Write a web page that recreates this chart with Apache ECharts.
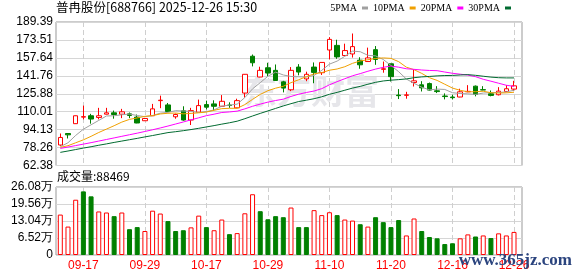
<!DOCTYPE html>
<html><head><meta charset="utf-8">
<script src="https://cdn.jsdelivr.net/npm/echarts@6/dist/echarts.min.js"></script>
<style>html,body{margin:0;padding:0;background:#fff}#c{width:578px;height:276px}</style>
</head><body><div id="c"></div>
<script>
// ---- data ----
const dates = ['09-12','09-15','09-16','09-17','09-18','09-19','09-22','09-23','09-24','09-25','09-26','09-29','09-30','10-09','10-10','10-13','10-14','10-15','10-16','10-17','10-20','10-21','10-22','10-23','10-24','10-27','10-28','10-29','10-30','10-31','11-03','11-04','11-05','11-06','11-07','11-10','11-11','11-12','11-13','11-14','11-17','11-18','11-19','11-20','11-21','11-24','11-25','11-26','11-27','11-28','12-15','12-16','12-17','12-18','12-19','12-22','12-23','12-24','12-25','12-26'];
const labelIdx = [3, 11, 19, 27, 35, 43, 51, 59];
const open  = [80.5,90.7,99.4,105.2,106.4,104.9,107.8,109.0,107.8,108.1,105.2,102.0,106.4,119.8,116.0,105.5,110.8,102.6,109.6,116.3,116.9,114.8,115.9,113.4,126.5,159.1,140.7,148.9,146.6,136.4,129.4,149.5,139.0,149.5,144.5,164.6,168.7,159.7,161.1,155.6,154.4,164.9,147.5,152.4,124.7,124.5,135.8,133.8,134.9,128.5,123.9,123.0,123.0,127.6,132.6,129.5,125.9,125.0,127.9,130.0];
const close = [87.2,89.5,106.4,105.6,103.5,106.4,109.0,107.5,109.9,106.7,100.0,104.0,112.5,120.2,110.2,107.5,102.6,111.0,115.4,114.0,114.8,119.2,115.5,119.8,143.1,153.3,146.6,144.2,137.6,130.9,146.6,145.1,143.1,144.8,153.6,174.0,158.5,164.1,167.6,151.5,157.6,156.2,148.0,141.0,124.2,124.9,137.3,131.1,129.1,127.8,123.4,122.4,127.6,128.0,125.3,129.2,124.4,128.2,130.3,132.9];
const low   = [79.8,86.3,99.2,103.2,99.4,103.2,107.6,103.8,104.3,104.3,99.8,101.8,106.2,113.1,109.6,103.8,102.0,98.2,109.6,111.9,111.3,114.6,113.4,113.2,122.4,150.1,140.5,141.6,137.4,127.1,128.2,142.2,137.0,135.2,142.5,156.2,156.8,159.5,157.9,148.0,154.0,151.5,144.5,136.7,121.2,121.5,132.3,127.9,128.5,126.5,120.9,120.8,122.8,127.3,123.6,129.0,123.6,124.4,127.3,128.2];
const high  = [90.7,90.9,106.6,115.4,108.1,113.4,113.4,111.0,112.5,109.3,107.5,104.5,116.9,124.2,117.7,108.4,114.8,113.4,120.7,119.8,120.1,124.7,118.3,121.5,143.3,160.6,149.8,153.3,151.8,137.3,149.5,152.1,145.4,153.6,153.6,176.0,173.7,170.2,179.2,158.2,166.7,168.1,154.4,152.4,130.0,127.6,146.9,137.0,135.8,132.6,126.2,125.0,130.3,133.5,133.2,132.6,128.8,131.7,133.5,137.3];
const ma5  = [79.0,82.5,89.0,94.5,98.4,102.3,106.2,106.4,107.3,107.9,106.6,105.6,106.6,108.7,109.4,110.9,110.6,110.3,109.3,110.1,111.6,114.9,115.8,116.7,122.5,130.2,135.7,141.4,145.0,142.5,141.2,140.9,140.7,142.1,146.6,152.1,154.8,159.0,163.6,163.1,159.9,159.4,156.2,150.9,145.4,138.9,135.1,131.7,129.3,130.0,129.7,126.8,126.1,125.8,125.3,126.5,126.9,127.0,127.5,129.0];
const ma10 = [78.4,79.9,82.5,85.1,88.2,91.6,94.6,97.6,100.8,103.2,104.5,105.9,106.5,108.0,108.6,108.8,108.1,108.5,109.0,109.7,111.2,112.7,113.0,113.0,116.3,120.9,125.3,128.6,130.8,132.5,135.7,138.3,141.0,143.5,144.6,146.7,147.8,149.8,152.8,154.9,156.0,157.1,157.6,157.2,154.3,149.4,147.2,143.9,140.1,137.7,134.3,130.9,128.9,127.6,127.7,128.1,126.8,126.5,126.7,127.2];
const ma20 = [77.5,78.7,80.0,81.3,82.6,84.0,85.4,86.8,88.2,89.6,91.0,92.5,94.0,95.6,97.3,99.1,100.9,102.8,104.6,106.5,107.8,109.3,109.8,110.5,112.5,114.8,116.7,118.5,119.9,121.1,123.5,125.5,127.0,128.3,130.4,133.8,136.6,139.2,141.8,143.7,145.8,147.7,149.3,150.4,149.4,148.0,147.5,146.9,146.5,146.3,145.1,144.0,143.2,142.4,141.0,138.7,137.0,135.2,133.4,132.4];
const ma30 = [74.0,75.2,76.5,77.8,79.0,80.3,81.5,82.8,84.0,85.2,86.4,87.7,88.9,90.2,91.5,92.3,93.2,94.2,95.3,96.5,97.7,99.0,100.2,101.6,103.8,106.2,108.5,110.7,112.9,115.1,117.1,119.0,120.2,121.5,123.2,125.4,127.1,129.0,130.9,132.4,134.3,136.0,137.2,137.9,138.4,139.0,140.1,140.8,141.2,141.7,142.0,142.1,142.5,142.8,142.2,141.4,140.6,140.1,139.9,139.9];
const volume = [155000,109000,212000,244000,225000,167000,163000,149000,163000,99000,107000,92000,170000,159000,130000,92000,95000,106000,151000,107000,95000,136000,80000,84000,160000,233000,168000,137000,149000,145000,182000,107000,107000,172000,153000,164000,153000,136000,132000,118000,109000,145000,126000,107000,134000,75000,140000,92000,69000,64000,42000,45000,64000,79000,71000,75000,65000,83000,75000,88469];
const priceTicks = [62.38, 189.39];
const volTicks = [0, 260800];
const title = '普冉股份[688766] 2025-12-26 15:30';
const maNames = ['5PMA','10PMA','20PMA','30PMA'];

// ---- chart ----
const UP = '#ff0000', DOWN = '#008000';
const kData = open.map((o, i) => [i, o, close[i], low[i], high[i]]);
const volData = volume.map((v, i) => {
  const up = i === 0 ? true : close[i] >= close[i - 1];
  return { value: [i, v], itemStyle: up ? { color: '#fff', borderColor: UP, borderWidth: 1 } : { color: DOWN, borderColor: DOWN, borderWidth: 1 } };
});
const pair = arr => arr.map((v, i) => [i, v]);
const xMin = -0.56, xMax = 60.04;
const splitX = { show: true, lineStyle: { color: '#cfcfcf', type: [5, 3], width: 1 } };
const splitY = { show: true, lineStyle: { color: '#d6d6d6', width: 1 } };
const lblFont = { color: '#000', fontSize: 12, fontFamily: 'Liberation Sans' };
const maColors = ['#a0a0a0', '#f0a000', '#ff00ff', '#006a30'];
const maData = [ma5, ma10, ma20, ma30];

const chart = echarts.init(document.getElementById('c'), null, { renderer: 'canvas' });
chart.setOption({
  animation: false,
  title: [
    { text: title, left: 56, top: 1, padding: 0, textStyle: { fontSize: 12.5, fontWeight: 'normal', color: '#000', fontFamily: 'Noto Sans CJK SC' } },
    { text: '成交量:' + volume[volume.length - 1], left: 57, top: 170, padding: 0, textStyle: { fontSize: 12, fontWeight: 'normal', color: '#000', fontFamily: 'Noto Sans CJK SC' } }
  ],
  legend: {
    data: maNames, top: 3, right: 67, align: 'right', icon: 'rect', itemWidth: 6, itemHeight: 3, itemGap: 5, padding: 0,
    textStyle: { fontFamily: 'Liberation Serif', fontSize: 10, color: '#000' }
  },
  grid: [
    { left: 56, top: 22, width: 466, height: 143.5, show: true, borderColor: '#999', borderWidth: 1 },
    { left: 56, top: 187, width: 466, height: 68, show: true, borderColor: '#999', borderWidth: 1 }
  ],
  xAxis: [
    { type: 'value', gridIndex: 0, min: xMin, max: xMax, axisLine: { show: false }, axisTick: { show: false, customValues: labelIdx }, axisLabel: { show: false }, splitLine: splitX },
    { type: 'value', gridIndex: 1, min: xMin, max: xMax, axisLine: { show: false }, axisTick: { show: false, customValues: labelIdx },
      axisLabel: { show: true, customValues: labelIdx, formatter: v => dates[Math.round(v)] || '', color: '#ff0000', fontSize: 12, fontFamily: 'Liberation Sans', margin: 5 }, splitLine: splitX }
  ],
  yAxis: [
    { type: 'value', gridIndex: 0, min: priceTicks[0], max: priceTicks[1], interval: (priceTicks[1] - priceTicks[0]) / 8,
      axisLine: { show: false }, axisTick: { show: false }, splitLine: splitY,
      axisLabel: Object.assign({ formatter: v => v.toFixed(2), margin: 3 }, lblFont) },
    { type: 'value', gridIndex: 1, min: volTicks[0], max: volTicks[1], interval: (volTicks[1] - volTicks[0]) / 4,
      axisLine: { show: false }, axisTick: { show: false }, splitLine: splitY,
      axisLabel: Object.assign({ formatter: v => v === 0 ? '0' : (v / 10000).toFixed(2) + '万', margin: 3 }, lblFont) }
  ],
  graphic: [
    { type: 'text', left: 243, top: 74, z: 1, silent: true, style: { text: '东方财富', fontSize: 34, fontWeight: 'bold', fill: '#e6e6ea', fontFamily: 'Noto Sans CJK SC' } },
    { type: 'text', right: 6, top: 252, z: 100, silent: true, style: { text: 'www.365jz.com', fontSize: 17, fontWeight: 'bold', fill: '#2b447e', fontFamily: 'Liberation Serif' } }
  ],
  series: [
    { type: 'candlestick', xAxisIndex: 0, yAxisIndex: 0, data: kData, encode: { x: 0, y: [1, 2, 3, 4] }, barWidth: 5,
      itemStyle: { color: '#fff', color0: DOWN, borderColor: UP, borderColor0: DOWN, borderWidth: 1 } }
  ].concat(maNames.map((n, k) => ({
    name: n, type: 'line', xAxisIndex: 0, yAxisIndex: 0, data: pair(maData[k]), symbol: 'none', smooth: false,
    itemStyle: { color: maColors[k] }, lineStyle: { color: maColors[k], width: 1 }
  }))).concat([
    { type: 'bar', xAxisIndex: 1, yAxisIndex: 1, data: volData, barWidth: 5 }
  ])
});
</script></body></html>
